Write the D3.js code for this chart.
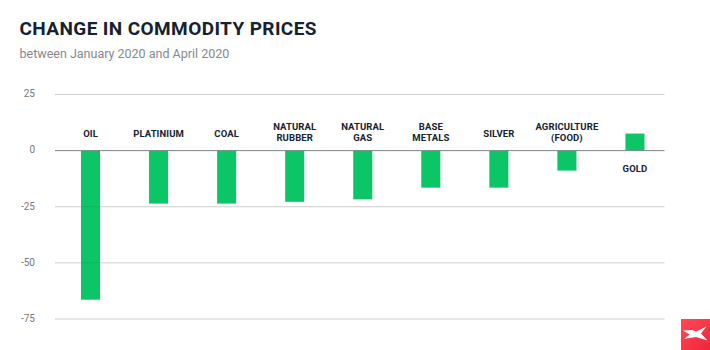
<!DOCTYPE html>
<html>
<head>
<meta charset="utf-8">
<script src="https://cdnjs.cloudflare.com/ajax/libs/d3/7.8.5/d3.min.js"></script>
<style>
html, body { margin: 0; padding: 0; background: #fff; }
svg { display: block; }
text { font-family: Roboto, sans-serif; }
</style>
</head>
<body>
<script>
var categories = ['OIL', 'PLATINIUM', 'COAL', 'NATURAL RUBBER', 'NATURAL GAS', 'BASE METALS', 'SILVER', 'AGRICULTURE (FOOD)', 'GOLD']
var labelLines = [['OIL'], ['PLATINIUM'], ['COAL'], ['NATURAL', 'RUBBER'], ['NATURAL', 'GAS'], ['BASE', 'METALS'], ['SILVER'], ['AGRICULTURE', '(FOOD)'], ['GOLD']]
var values = [-66.4, -23.6, -23.6, -22.8, -21.7, -16.5, -16.5, -8.9, 7.6]
var yTicks = [25, 0, -25, -50, -75]

var width = 710
var height = 350

var svg = d3.select('body')
    .append('svg')
    .attr('width', width)
    .attr('height', height)

var xScale = d3.scaleBand()
    .domain(categories)
    .range([56.5, 669])
    .paddingInner(0.72)
    .paddingOuter(0.36)

var yScale = d3.scaleLinear()
    .domain([-75, 25])
    .range([319, 94.5])

//title
svg.append('text')
    .text('CHANGE IN COMMODITY PRICES')
    .attr('x', 19.5)
    .attr('y', 35)
    .style('font-size', '19px')
    .style('font-weight', 700)
    .style('letter-spacing', '0.4px')
    .style('fill', '#15222f')

svg.append('text')
    .text('between January 2020 and April 2020')
    .attr('x', 19.5)
    .attr('y', 58)
    .style('font-size', '12.5px')
    .style('fill', '#85888c')

//grid lines
svg.selectAll('.grid')
    .data(yTicks.filter(d => d != 0))
    .enter()
    .append('line')
    .attr('class', 'grid')
    .attr('x1', 55)
    .attr('x2', 664.5)
    .attr('y1', d => yScale(d))
    .attr('y2', d => yScale(d))
    .style('stroke', '#dfe0e1')
    .style('stroke-width', 1)

//bars
svg.selectAll('.bar')
    .data(values)
    .enter()
    .append('rect')
    .attr('class', 'bar')
    .attr('x', (d, i) => xScale(categories[i]))
    .attr('width', xScale.bandwidth())
    .attr('y', d => yScale(Math.max(d, 0)))
    .attr('height', d => Math.abs(yScale(d) - yScale(0)))
    .style('fill', '#0cc566')

// grid shows faintly through the bars
svg.selectAll('.grid-over')
    .data(yTicks.filter(d => d != 0))
    .enter()
    .append('line')
    .attr('x1', 55)
    .attr('x2', 664.5)
    .attr('y1', d => yScale(d))
    .attr('y2', d => yScale(d))
    .style('stroke', '#000')
    .style('stroke-opacity', 0.08)

//zero line
svg.append('line')
    .attr('x1', 55)
    .attr('x2', 664.5)
    .attr('y1', yScale(0))
    .attr('y2', yScale(0))
    .style('stroke', '#7d8387')
    .style('stroke-width', 1)

//y axis labels
svg.selectAll('.ylabel')
    .data(yTicks)
    .enter()
    .append('text')
    .attr('class', 'ylabel')
    .text(d => d)
    .attr('x', 35)
    .attr('y', d => yScale(d) + 2.8)
    .attr('text-anchor', 'end')
    .style('font-size', '10px')
    .style('fill', '#75797d')

//category labels
var labels = svg.selectAll('.label')
    .data(categories)
    .enter()
    .append('text')
    .attr('class', 'label')
    .attr('text-anchor', 'middle')
    .style('font-size', '9.5px')
    .style('font-weight', 700)
    .style('letter-spacing', '0.1px')
    .style('fill', '#15222f')

labels.selectAll('tspan')
    .data((d, i) => labelLines[i].map(t => ({ t: t, i: i, n: labelLines[i].length })))
    .enter()
    .append('tspan')
    .text(d => d.t)
    .attr('x', d => xScale(categories[d.i]) + xScale.bandwidth() / 2)
    .attr('y', function(d, j) {
        // gold sits under the zero line, the rest above their bars
        if (values[d.i] > 0) return yScale(0) + 21.5
        if (d.n == 1) return yScale(0) - 14
        return yScale(0) - 10 - (d.n - 1 - j) * 11
    })

//logo
var logo = svg.append('g')
    .attr('transform', 'translate(681,319)')

var grad = svg.append('defs').append('linearGradient')
    .attr('id', 'logoFill')
    .attr('x1', 0).attr('y1', 0).attr('x2', 1).attr('y2', 1)
grad.append('stop').attr('offset', 0).attr('stop-color', '#ff4a55')
grad.append('stop').attr('offset', 1).attr('stop-color', '#f0243a')

logo.append('rect')
    .attr('width', 29)
    .attr('height', 31)
    .style('fill', 'url(#logoFill)')

logo.append('path')
    .attr('d', 'M2 11.5 L11 11 L15 12.5 L25.5 7.5 L20 14.5 L26.5 21.5 L15 18 L3 20 L8.5 15.5 Z')
    .style('fill', '#fff')
</script>
</body>
</html>
